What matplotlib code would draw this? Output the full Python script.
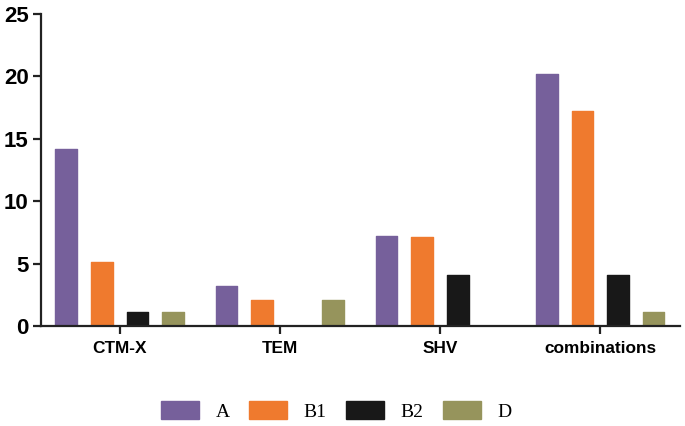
import numpy as np
import matplotlib
matplotlib.use('Agg')
import matplotlib.pyplot as plt

categories = ['CTM-X', 'TEM', 'SHV', 'combinations']
series = ['A', 'B1', 'B2', 'D']
A = [14.2, 3.2, 7.2, 20.2]
B1 = [5.1, 2.1, 7.1, 17.2]
B2 = [1.1, 0, 4.1, 4.1]
D = [1.1, 2.1, 0, 1.1]
colors = ['#76609b', '#ef7a2e', '#181818', '#96945c']


def main():
    fig = plt.figure(figsize=(6.85, 4.26), dpi=100)
    ax = fig.add_axes([0.06, 0.235, 0.933, 0.732])

    x = np.arange(len(categories))
    width = 0.135
    step = 0.222
    values = [A, B1, B2, D]
    for i, vals in enumerate(values):
        offset = (i - 1.5) * step
        ax.bar(x + offset, vals, width, color=colors[i], label=series[i],
               edgecolor=colors[i], linewidth=1, joinstyle='round')

    ax.set_xlim(-0.49, 3.5)
    ax.set_ylim(0, 25)
    ax.set_yticks([0, 5, 10, 15, 20, 25])
    ax.set_xticks(x)
    ax.set_xticklabels(categories)

    for spine in ['top', 'right']:
        ax.spines[spine].set_visible(False)
    for spine in ['left', 'bottom']:
        ax.spines[spine].set_linewidth(1.6)
        ax.spines[spine].set_color('#222222')

    ax.tick_params(axis='both', direction='out', length=6, width=1.6, color='#222222')
    for lab in ax.get_yticklabels():
        lab.set_fontfamily('Liberation Sans')
        lab.set_fontweight('bold')
        lab.set_fontsize(16)
    for lab in ax.get_xticklabels():
        lab.set_fontfamily('Liberation Sans')
        lab.set_fontweight('bold')
        lab.set_fontsize(12.4)
    ax.tick_params(axis='x', pad=5)
    ax.tick_params(axis='y', pad=3)

    fig.legend(loc='center', bbox_to_anchor=(0.491, 0.035), ncol=4, frameon=False,
               prop={'family': 'Liberation Serif', 'size': 14},
               handlelength=1.95, handleheight=1.0, columnspacing=1.0, handletextpad=0.85)

    plt.savefig('out.png', dpi=100)
    plt.close()


if __name__ == '__main__':
    main()
